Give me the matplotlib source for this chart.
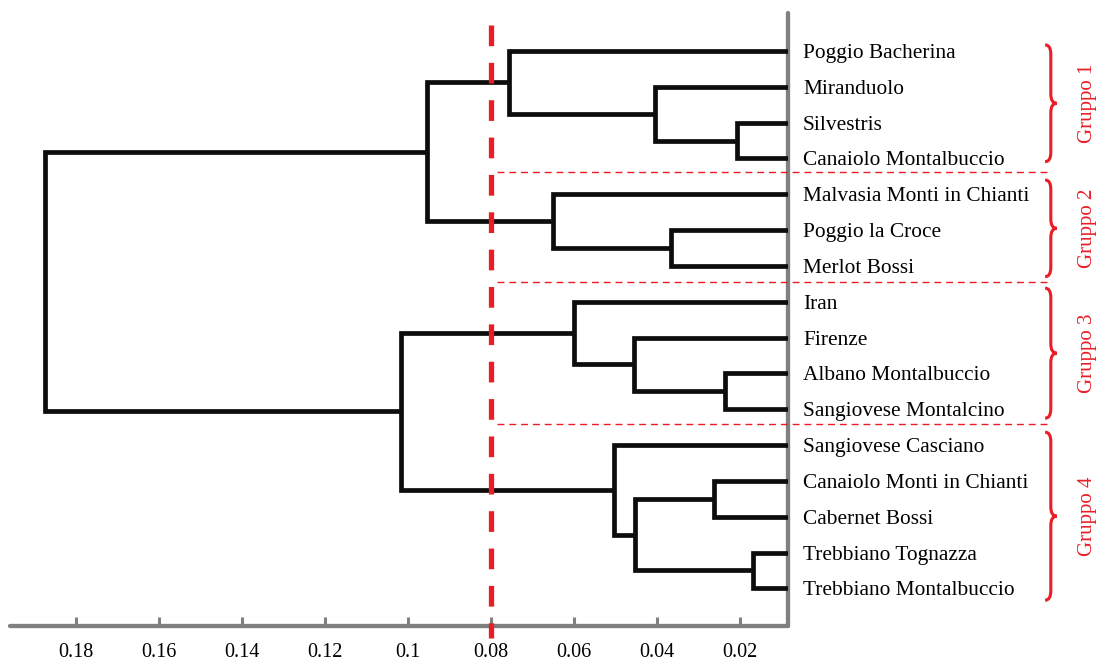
import matplotlib
matplotlib.use("Agg")
import matplotlib.pyplot as plt
from matplotlib.path import Path
from matplotlib.patches import PathPatch

# ── Data ──────────────────────────────────────────────────────────────────────
leaves = [
    "Poggio Bacherina", "Miranduolo", "Silvestris", "Canaiolo Montalbuccio",
    "Malvasia Monti in Chianti", "Poggio la Croce", "Merlot Bossi",
    "Iran", "Firenze", "Albano Montalbuccio", "Sangiovese Montalcino",
    "Sangiovese Casciano", "Canaiolo Monti in Chianti", "Cabernet Bossi",
    "Trebbiano Tognazza", "Trebbiano Montalbuccio",
]

# merges: (child a, child b, distance); new node ids start at len(leaves)
merge_a = [14, 2, 9, 12, 5, 1, 19, 8, 11, 7, 4, 0, 27, 25, 28]
merge_b = [15, 3, 10, 13, 6, 17, 16, 18, 22, 23, 20, 21, 26, 24, 29]
merge_h = [0.0169, 0.0207, 0.0236, 0.0263, 0.0366, 0.0405, 0.0453, 0.0455,
           0.0504, 0.0600, 0.0650, 0.0756, 0.0954, 0.1017, 0.1874]

cut_height = 0.08
separators = [3.38, 6.44, 10.42]          # leaf-index units
group_names = ["Gruppo 1", "Gruppo 2", "Gruppo 3", "Gruppo 4"]
group_top = [-0.17, 3.60, 6.62, 10.64]
group_bot = [3.09, 6.30, 10.25, 15.33]

xticks = [0.18, 0.16, 0.14, 0.12, 0.10, 0.08, 0.06, 0.04, 0.02]

RED = "#ea1d26"
GREY = "#808080"
SERIF = ["Liberation Serif", "DejaVu Serif"]

plt.rcParams["lines.scale_dashes"] = False

fig = plt.figure(figsize=(10.98, 6.63), dpi=100)
ax = fig.add_axes([0.0091, 0.0558, 0.7083, 0.9246])

# ── Dendrogram ────────────────────────────────────────────────────────────────
pos = {i: (0.0, float(i)) for i in range(len(leaves))}
for k, (a, b, h) in enumerate(zip(merge_a, merge_b, merge_h)):
    ha, ya = pos[a]
    hb, yb = pos[b]
    ax.plot([ha, h, h, hb], [ya, ya, yb, yb], color="#0d0d0d", lw=3.4,
            solid_joinstyle="miter", solid_capstyle="butt", zorder=3)
    pos[len(leaves) + k] = (h, (ya + yb) / 2)

ax.set_xlim(0.1958, 0.0085)
ax.set_ylim(16.05, -1.06)

# cut line
ax.plot([cut_height, cut_height], [-0.73, 16.39], color=RED, lw=3.8,
        dashes=(14.9, 12.0), solid_capstyle="butt", dash_capstyle="butt",
        clip_on=False, zorder=6)

# group separators
ytr = ax.get_yaxis_transform()
for s in separators:
    ax.plot([0.626, 1.340], [s, s], transform=ytr, color=RED, lw=1.0,
            dashes=(5.0, 3.5), clip_on=False, zorder=4)

# braces + group labels
def brace(y0, y1, x0=1.331, xm=1.3383, xt=1.346, r=0.26):
    ym = (y0 + y1) / 2
    verts = [(x0, y0), (xm, y0), (xm, y0 + r),
             (xm, ym - r), (xm, ym), (xt, ym),
             (xm, ym), (xm, ym + r),
             (xm, y1 - r), (xm, y1), (x0, y1)]
    codes = [Path.MOVETO, Path.CURVE3, Path.CURVE3,
             Path.LINETO, Path.CURVE3, Path.CURVE3,
             Path.CURVE3, Path.CURVE3,
             Path.LINETO, Path.CURVE3, Path.CURVE3]
    patch = PathPatch(Path(verts, codes), transform=ytr, fill=False,
                      edgecolor=RED, lw=2.2, clip_on=False, zorder=4)
    ax.add_patch(patch)
    return ym

for name, t, b in zip(group_names, group_top, group_bot):
    ym = brace(t, b)
    ax.text(1.386, ym, name, transform=ytr, rotation=90, ha="center",
            va="center", color=RED, fontsize=15, family=SERIF)

# ── Axes styling ──────────────────────────────────────────────────────────────
for side in ["left", "top"]:
    ax.spines[side].set_visible(False)
for side in ["right", "bottom"]:
    ax.spines[side].set_color(GREY)
    ax.spines[side].set_linewidth(3.1)
    ax.spines[side].set_capstyle("round")

ax.set_xticks(xticks)
ax.set_xticklabels([f"{v:g}" for v in xticks], family=SERIF, fontsize=14.5)
ax.tick_params(axis="x", direction="in", length=6.5, width=2.2, color=GREY,
               pad=12)

ax.yaxis.tick_right()
ax.set_yticks(range(len(leaves)))
ax.set_yticklabels(leaves, family=SERIF, fontsize=15.4)
ax.tick_params(axis="y", length=0, pad=11)

fig.savefig("out.png", dpi=100)
